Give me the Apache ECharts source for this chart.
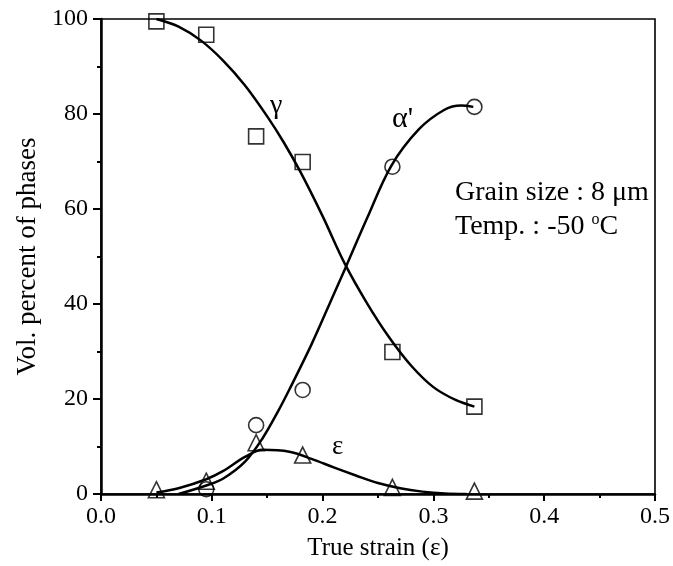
<!DOCTYPE html>
<html>
<head>
<meta charset="utf-8">
<script src="https://cdn.jsdelivr.net/npm/echarts@6/dist/echarts.min.js"></script>
<style>html,body{margin:0;padding:0;background:#fff}#c{width:673px;height:566px}</style>
</head>
<body>
<div id="c"></div>
<script>
// measured points
const gammaPts = [[0.05,99.5],[0.095,96.7],[0.14,75.3],[0.182,69.9],[0.263,29.9],[0.337,18.4]];
const alphaPts = [[0.095,1.0],[0.14,14.5],[0.182,21.9],[0.263,68.9],[0.337,81.5]];
const epsPts   = [[0.05,0.9],[0.095,2.7],[0.14,10.8],[0.182,8.2],[0.263,1.4],[0.337,0.6]];
// fitted curves
const gammaCurve = [[0.05,100],[0.07,98.4],[0.09,95.5],[0.11,91.3],[0.13,86],[0.15,79.5],[0.165,74],[0.18,67.8],[0.20,58.5],[0.22,48.5],[0.24,40.2],[0.26,33],[0.28,27],[0.30,22.5],[0.32,19.8],[0.337,18.4]];
const alphaCurve = [[0.07,0],[0.095,1.8],[0.11,3.2],[0.13,6.8],[0.146,11.8],[0.16,17.5],[0.17,22],[0.19,31.5],[0.21,42],[0.221,47.8],[0.24,58],[0.262,69.1],[0.287,76.8],[0.31,80.9],[0.325,81.8],[0.336,81.5]];
const epsCurve   = [[0.05,0.3],[0.07,1.2],[0.095,3.1],[0.11,4.8],[0.13,7.8],[0.146,9.3],[0.17,8.9],[0.19,7.4],[0.21,5.6],[0.23,3.9],[0.25,2.3],[0.27,1.2],[0.29,0.5],[0.31,0.1],[0.33,0]];
const xTicks = [0, 0.5, 0.1];
const yTicks = [0, 100, 20];

const serif = 'Liberation Serif';
const chart = echarts.init(document.getElementById('c'), null, {renderer:'canvas'});
const tickStyle = {show:true,inside:false,length:8,lineStyle:{color:'#000',width:2}};
const minorStyle = {show:true,splitNumber:2,length:4,lineStyle:{color:'#000',width:2}};
const lineStyle = {show:true,onZero:false,lineStyle:{color:'#000',width:2.5}};
function pts(name, data, symbol, size){
  return {type:'scatter',name,data,symbol,symbolSize:size,z:5,
    itemStyle:{color:'rgba(0,0,0,0)',borderColor:'#000',borderWidth:1.6}};
}
function curve(name,data){
  return {type:'line',name,data,smooth:0.35,showSymbol:false,symbol:'none',z:4,
    lineStyle:{color:'#000',width:2.5}};
}
chart.setOption({
  animation:false,
  backgroundColor:'#fff',
  grid:{left:101,right:17,top:19,bottom:69,show:true,borderColor:'#000',borderWidth:1.6,backgroundColor:'transparent'},
  xAxis:{type:'value',min:xTicks[0],max:xTicks[1],interval:xTicks[2],
    name:'True strain (ε)',nameLocation:'middle',nameGap:42,
    nameTextStyle:{color:'#000',fontFamily:serif,fontSize:25},
    axisLine:lineStyle,axisTick:Object.assign({},tickStyle,{length:7}),minorTick:minorStyle,splitLine:{show:false},
    axisLabel:{color:'#000',fontFamily:serif,fontSize:24,margin:11,formatter:v=>v.toFixed(1)}},
  yAxis:{type:'value',min:yTicks[0],max:yTicks[1],interval:yTicks[2],
    name:'Vol. percent of phases',nameLocation:'middle',nameGap:60,
    nameTextStyle:{color:'#000',fontFamily:serif,fontSize:27},
    axisLine:lineStyle,axisTick:tickStyle,minorTick:minorStyle,splitLine:{show:false},
    axisLabel:{color:'#000',fontFamily:serif,fontSize:24,margin:13}},
  series:[
    curve('γ fit',gammaCurve), curve('α\' fit',alphaCurve), curve('ε fit',epsCurve),
    pts('γ',gammaPts,'rect',15), pts('α\'',alphaPts,'circle',15), pts('ε',epsPts,'triangle',16)
  ],
  graphic:[
    {type:'text',left:270,top:92,style:{text:'γ',font:'28px "Liberation Serif"',fill:'#000'}},
    {type:'text',left:392,top:104,style:{text:'α\'',font:'30px "Liberation Serif"',fill:'#000'}},
    {type:'text',left:332,top:433,style:{text:'ε',font:'27px "Liberation Serif"',fill:'#000'}},
    {type:'text',left:455,top:179,style:{text:'Grain size : 8 μm',font:'28px "Liberation Serif"',fill:'#000'}},
    {type:'text',left:455,top:212,style:{rich:{n:{fontFamily:serif,fontSize:28,fill:'#000'},s:{fontFamily:serif,fontSize:16,fill:'#000',verticalAlign:'top',padding:[0,0,14,0]}},text:'{n|Temp. : -50 }{s|o}{n|C}'}}
  ]
});
</script>
</body>
</html>
